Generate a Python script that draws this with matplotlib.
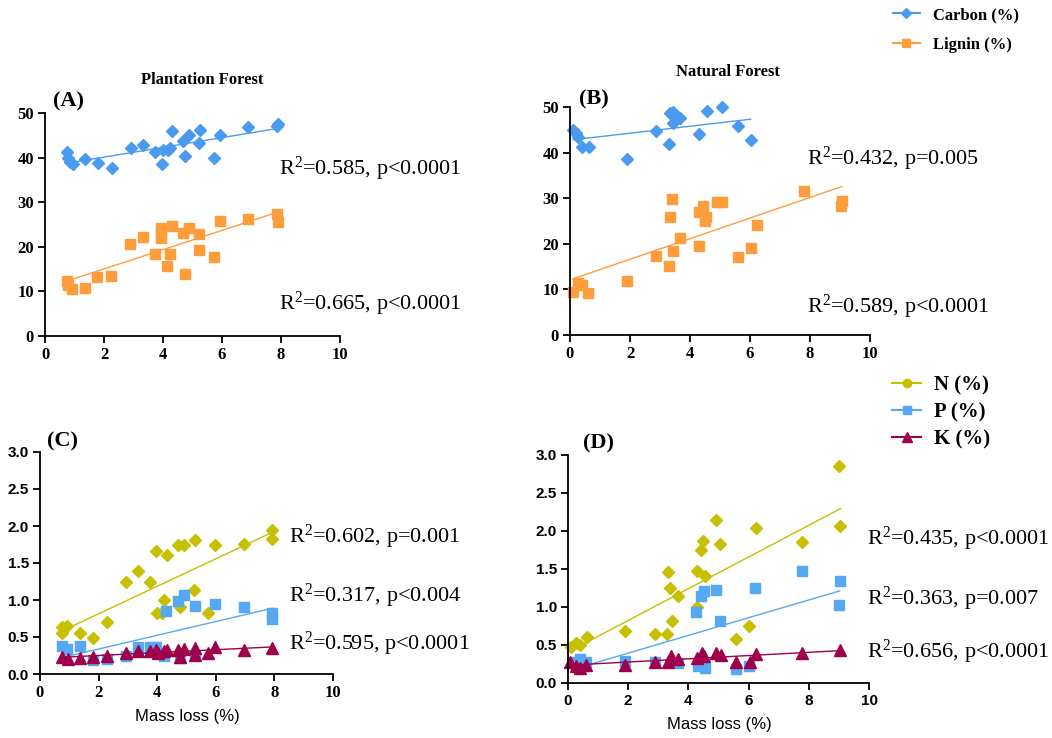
import numpy as np
import matplotlib.pyplot as plt
from matplotlib.lines import Line2D
from matplotlib.ticker import FormatStrFormatter

plt.rcParams['font.family'] = 'Liberation Serif'
plt.rcParams['mathtext.default'] = 'regular'

# --- colours ---
C_CARBON = '#4a9bf0'
C_LIGNIN = '#ff9c3c'
C_N = '#c6c000'
C_P = '#56a8f4'
C_K = '#9e0049'

# --- plantation forest: carbon / lignin vs mass loss ---
pf_c_x = [0.73, 0.79, 0.85, 0.94, 1.36, 1.79, 2.26, 2.90, 3.33, 3.73, 3.95, 4.01,
          4.16, 4.24, 4.29, 4.67, 4.75, 4.89, 5.25, 5.23, 5.72, 5.93, 6.89, 7.85, 7.89]
pf_c_y = [41.2, 39.9, 39.1, 38.6, 39.7, 38.9, 37.6, 42.1, 42.8, 41.2, 38.6, 41.6,
          41.6, 42.1, 45.9, 43.8, 40.3, 45.1, 46.1, 43.3, 39.8, 45.0, 46.8, 47.0, 47.5]
pf_l_x = [0.73, 0.79, 0.90, 1.36, 1.77, 2.24, 2.89, 3.33, 3.73, 3.94, 3.94, 3.94, 4.15,
          4.24, 4.29, 4.69, 4.75, 4.89, 5.23, 5.23, 5.72, 5.93, 6.89, 7.85, 7.89]
pf_l_y = [12.4, 11.5, 10.6, 10.7, 13.2, 13.5, 20.6, 22.2, 18.3, 21.9, 23.1, 24.2, 15.6,
          18.4, 24.6, 23.2, 13.9, 24.2, 22.8, 19.2, 17.7, 25.7, 26.3, 27.4, 25.6]

# --- natural forest: carbon / lignin vs mass loss ---
nf_c_x = [0.11, 0.20, 0.28, 0.39, 0.64, 1.89, 2.87, 3.31, 3.33, 3.42, 3.44, 3.67,
          4.31, 4.58, 5.07, 5.61, 6.02]
nf_c_y = [44.9, 44.3, 43.4, 41.2, 41.2, 38.7, 44.8, 41.9, 48.7, 49.0, 46.5, 47.6,
          44.1, 49.1, 49.9, 45.8, 42.8]
nf_l_x = [0.09, 0.28, 0.39, 0.61, 1.89, 2.86, 3.31, 3.33, 3.40, 3.44, 3.67, 4.29,
          4.44, 4.31, 4.51, 4.54, 4.91, 5.07, 5.61, 6.02, 6.24, 7.80, 9.02, 9.06]
nf_l_y = [9.5, 11.3, 11.0, 9.2, 11.9, 17.3, 15.2, 25.8, 29.8, 18.4, 21.2, 26.9,
          28.2, 19.5, 25.1, 25.8, 29.2, 29.2, 17.1, 19.1, 24.1, 31.6, 28.3, 29.3]

# --- plantation forest: N / P / K vs mass loss ---
pf_n_x = [0.74, 0.74, 0.93, 1.36, 1.82, 2.27, 2.93, 3.35, 3.77, 3.95, 3.98, 4.18,
          4.32, 4.24, 4.72, 4.92, 4.77, 5.28, 5.25, 5.97, 5.74, 6.97, 7.93, 7.93]
pf_n_y = [0.64, 0.56, 0.65, 0.55, 0.48, 0.70, 1.25, 1.39, 1.25, 1.66, 0.83, 0.83,
          1.61, 1.00, 1.74, 1.75, 0.90, 1.81, 1.14, 1.74, 0.83, 1.76, 1.94, 1.82]
pf_p_x = [0.74, 0.91, 1.36, 1.82, 2.27, 2.93, 3.35, 3.77, 3.95, 4.24, 4.30, 4.72,
          4.92, 4.77, 5.28, 5.28, 5.97, 6.97, 7.93, 7.93]
pf_p_y = [0.38, 0.34, 0.38, 0.19, 0.20, 0.24, 0.37, 0.36, 0.37, 0.24, 0.85, 0.98,
          1.07, 0.22, 0.92, 0.26, 0.94, 0.90, 0.83, 0.74]
pf_k_x = [0.74, 0.97, 1.36, 1.82, 2.27, 2.93, 3.35, 3.77, 3.95, 4.03, 4.24, 4.32,
          4.72, 4.77, 4.92, 5.28, 5.30, 5.74, 5.97, 6.97, 7.93]
pf_k_y = [0.23, 0.20, 0.22, 0.23, 0.24, 0.28, 0.31, 0.31, 0.33, 0.28, 0.31, 0.33,
          0.33, 0.23, 0.34, 0.35, 0.26, 0.28, 0.36, 0.33, 0.35]

# --- natural forest: N / P / K vs mass loss ---
nf_n_x = [0.11, 0.25, 0.39, 0.63, 1.88, 2.88, 3.30, 3.32, 3.40, 3.47, 3.65, 4.27,
          4.30, 4.43, 4.49, 4.56, 4.93, 5.06, 5.57, 6.00, 6.23, 7.79, 9.00, 9.05]
nf_n_y = [0.47, 0.53, 0.50, 0.61, 0.69, 0.64, 0.64, 1.46, 1.25, 0.82, 1.14, 1.48,
          1.00, 1.75, 1.87, 1.41, 2.15, 1.83, 0.58, 0.75, 2.04, 1.86, 2.85, 2.07]
nf_p_x = [0.22, 0.28, 0.39, 0.61, 1.88, 2.88, 3.65, 4.26, 4.32, 4.43, 4.52, 4.54,
          4.93, 5.04, 5.59, 6.00, 6.22, 7.77, 9.03, 9.00]
nf_p_y = [0.28, 0.22, 0.31, 0.28, 0.29, 0.28, 0.26, 0.94, 0.22, 1.15, 1.21, 0.20,
          1.22, 0.82, 0.18, 0.22, 1.25, 1.48, 1.34, 1.02]
nf_k_x = [0.06, 0.28, 0.39, 0.61, 1.88, 2.88, 3.32, 3.41, 3.65, 4.30, 4.45, 4.52,
          4.93, 5.09, 5.59, 6.04, 6.26, 7.77, 9.03]
nf_k_y = [0.28, 0.23, 0.20, 0.24, 0.24, 0.28, 0.28, 0.35, 0.32, 0.33, 0.39, 0.35,
          0.39, 0.37, 0.28, 0.28, 0.38, 0.40, 0.43]

W, H = 1052, 738
fig = plt.figure(figsize=(W / 100, H / 100), dpi=100)


def px_axes(left, top, right, bottom):
    return fig.add_axes([left / W, 1 - bottom / H, (right - left) / W, (bottom - top) / H])


def scatter_fit(ax, x, y, color, marker, ms):
    x = np.asarray(x)
    y = np.asarray(y)
    ax.plot(x, y, ls='none', marker=marker, ms=ms, color=color, mec=color, clip_on=False)
    k, b = np.polyfit(x, y, 1)
    xs = np.array([x.min(), x.max()])
    ax.plot(xs, k * xs + b, color=color, lw=1)


def style(ax, ymax, ystep, yfmt, xfont, yfont):
    ax.set_xlim(0, 10)
    ax.set_ylim(0, ymax)
    ax.set_xticks(range(0, 11, 2))
    ax.set_yticks(np.arange(0, ymax + ystep / 2, ystep))
    ax.yaxis.set_major_formatter(FormatStrFormatter(yfmt))
    for s in ['top', 'right']:
        ax.spines[s].set_visible(False)
    for s in ['left', 'bottom']:
        ax.spines[s].set_linewidth(1.3)
    ax.tick_params(direction='out', length=5, width=1.3, pad=3)
    for lab in ax.get_xticklabels():
        lab.set_fontproperties(xfont)
    for lab in ax.get_yticklabels():
        lab.set_fontproperties(yfont)


serif_b = dict(family='Liberation Serif', weight='bold', size=12)
sans_b = dict(family='Liberation Sans', weight='bold', size=11)

# (A) plantation forest, carbon & lignin
axA = px_axes(45, 113, 340, 336)
scatter_fit(axA, pf_c_x, pf_c_y, C_CARBON, 'D', 6.5)
scatter_fit(axA, pf_l_x, pf_l_y, C_LIGNIN, 's', 7.5)
style(axA, 50, 10, '%d', serif_b, serif_b)

# (B) natural forest, carbon & lignin
axB = px_axes(570, 107, 870, 335)
scatter_fit(axB, nf_c_x, nf_c_y, C_CARBON, 'D', 6.5)
scatter_fit(axB, nf_l_x, nf_l_y, C_LIGNIN, 's', 7.5)
style(axB, 50, 10, '%d', serif_b, serif_b)

# (C) plantation forest, nutrients
axC = px_axes(40, 452, 333, 674)
scatter_fit(axC, pf_n_x, pf_n_y, C_N, 'D', 6.5)
scatter_fit(axC, pf_p_x, pf_p_y, C_P, 's', 7)
scatter_fit(axC, pf_k_x, pf_k_y, C_K, '^', 8.5)
style(axC, 3.0, 0.5, '%.1f', serif_b, sans_b)

# (D) natural forest, nutrients
axD = px_axes(568, 455, 869, 683)
scatter_fit(axD, nf_n_x, nf_n_y, C_N, 'D', 6.5)
scatter_fit(axD, nf_p_x, nf_p_y, C_P, 's', 7)
scatter_fit(axD, nf_k_x, nf_k_y, C_K, '^', 8.5)
style(axD, 3.0, 0.5, '%.1f', sans_b, sans_b)


def ftext(x, y, s, **kw):
    fig.text(x / W, 1 - y / H, s, **kw)


# panel titles and letters
ftext(202, 80, 'Plantation Forest', ha='center', va='center', fontsize=12, fontweight='bold')
ftext(728, 72, 'Natural Forest', ha='center', va='center', fontsize=12, fontweight='bold')
for (x, y, s) in [(68, 101, '(A)'), (594, 99, '(B)'), (62, 441, '(C)'), (598, 443, '(D)')]:
    ftext(x, y, s, ha='center', va='center', fontsize=16, fontweight='bold')

ftext(187, 716, 'Mass loss (%)', ha='center', va='center', fontsize=12, family='Liberation Sans')
ftext(719, 724, 'Mass loss (%)', ha='center', va='center', fontsize=12, family='Liberation Sans')

# regression statistics
stats = [
    (279, 175, 'R$^2$=0.585, p<0.0001'),
    (279, 310, 'R$^2$=0.665, p<0.0001'),
    (807, 165, 'R$^2$=0.432, p=0.005'),
    (807, 313, 'R$^2$=0.589, p<0.0001'),
    (289, 543, 'R$^2$=0.602, p=0.001'),
    (289, 602, 'R$^2$=0.317, p<0.004'),
    (289, 650, 'R$^2$=0.595, p<0.0001'),
    (867, 545, 'R$^2$=0.435, p<0.0001'),
    (867, 605, 'R$^2$=0.363, p=0.007'),
    (867, 658, 'R$^2$=0.656, p<0.0001'),
]
for x, y, s in stats:
    ftext(x, y, s, ha='left', va='baseline', fontsize=16)

# legends
h1 = [Line2D([], [], color=C_CARBON, marker='D', ms=5, lw=1.5),
      Line2D([], [], color=C_LIGNIN, marker='s', ms=5.5, lw=1.5)]
fig.legend(h1, ['Carbon (%)', 'Lignin (%)'], loc='upper left',
           bbox_to_anchor=(893 / W, 1 - 7 / H), frameon=False, borderpad=0,
           borderaxespad=0, handlelength=1.6, handletextpad=0.8, labelspacing=0.85,
           prop=dict(family='Liberation Serif', weight='bold', size=12))

h2 = [Line2D([], [], color=C_N, marker='o', ms=6, lw=1.5),
      Line2D([], [], color=C_P, marker='s', ms=6, lw=1.5),
      Line2D([], [], color=C_K, marker='^', ms=7, lw=1.5)]
fig.legend(h2, ['N (%)', 'P (%)', 'K (%)'], loc='upper left',
           bbox_to_anchor=(892 / W, 1 - 375 / H), frameon=False, borderpad=0,
           borderaxespad=0, handlelength=1.4, handletextpad=0.6, labelspacing=0.35,
           prop=dict(family='Liberation Serif', weight='bold', size=15))

fig.savefig('out.png', dpi=100)
